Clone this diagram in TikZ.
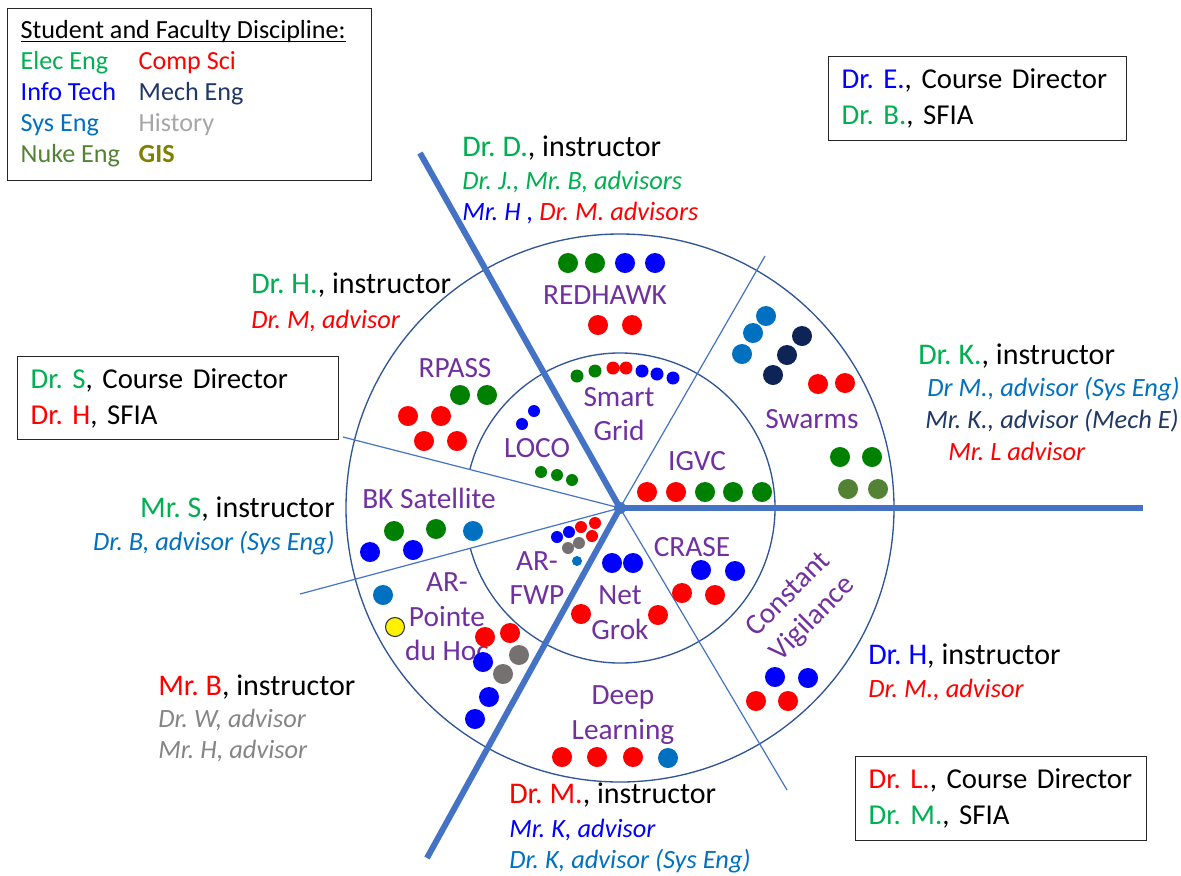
\documentclass[tikz,border=0pt]{standalone}
\usepackage{fontspec}
\setmainfont{Carlito}
\usetikzlibrary{positioning}

\definecolor{elec}{HTML}{00B050}
\definecolor{elecdot}{HTML}{008000}
\definecolor{comp}{HTML}{FF0000}
\definecolor{info}{HTML}{0000FF}
\definecolor{mech}{HTML}{1F3864}
\definecolor{mechdot}{HTML}{0E2356}
\definecolor{sys}{HTML}{0070C0}
\definecolor{hist}{HTML}{A6A6A6}
\definecolor{histdot}{HTML}{767171}
\definecolor{nuke}{HTML}{548235}
\definecolor{gis}{HTML}{7F7F00}
\definecolor{proj}{HTML}{7030A0}
\definecolor{spoke}{HTML}{4472C4}
\definecolor{ring}{HTML}{2F5597}

% underline close to the baseline
\newcommand\ulhead[1]{\setbox0\hbox{#1}\rlap{\rule[-2.3pt]{\wd0}{0.9pt}}\box0}

\begin{document}
\frenchspacing
\begin{tikzpicture}[x=0.75pt, y=-0.75pt,
    main/.style={font=\fontsize{22.5}{27}\selectfont, inner sep=0pt},
    adv/.style={font=\fontsize{19.8}{23}\selectfont\itshape, inner sep=0pt},
    project/.style={font=\fontsize{22}{26}\selectfont, text=proj, align=center, inner sep=0pt},
    box/.style={draw=black!85, line width=1pt, anchor=north west,
                inner xsep=9.75pt, font=\fontsize{21.6}{27}\selectfont},
    thickspoke/.style={spoke, line width=4.5pt},
    thinspoke/.style={spoke, line width=0.9pt},
    ringline/.style={ring, line width=1pt}]

  \useasboundingbox (0,0) rectangle (1181,875);

  % wheel
  \coordinate (c) at (620,508);
  \coordinate (nw) at (420,153);
  \coordinate (e) at (1143,508);
  \coordinate (sw) at (427,858);
  \coordinate (ne) at (765,256);
  \coordinate (wn) at (343,437);
  \coordinate (ws) at (300,594);
  \coordinate (se) at (787,790);

  \draw[ringline] (c) circle[radius=274];
  \draw[ringline] (c) ++(194.4:155) arc[start angle=194.4, end angle=525, radius=155];
  \draw[thinspoke] (c) -- (ne);
  \draw[thinspoke] (c) -- (wn);
  \draw[thinspoke] (c) -- (ws);
  \draw[thinspoke] (c) -- (se);
  \draw[thickspoke] (c) -- (nw);
  \draw[thickspoke] (c) -- (e);
  \draw[thickspoke] (c) -- (sw);
  \fill[spoke] (c) circle[radius=6];

  % legend
  \node[box, inner ysep=6.4pt, font=\fontsize{19.6}{23.25}\selectfont] (legend) at (7,8) {%
    \begin{tabular}{@{}p{88.5pt}@{}p{165pt}@{}}
      \multicolumn{2}{@{}l@{}}{\ulhead{Student and Faculty Discipline:}}\\
      \textcolor{elec}{Elec Eng} & \textcolor{comp}{Comp Sci}\\
      \textcolor{info}{Info Tech} & \textcolor{mech}{Mech Eng}\\
      \textcolor{sys}{Sys Eng} & \textcolor{hist}{History}\\
      \textcolor{nuke}{Nuke Eng} & \textcolor{gis}{\textbf{GIS}}
    \end{tabular}};

  % course boxes
  \node[box, text width=204pt, minimum height=63pt] (cdE) at (828,56)
    {\mbox{\textcolor{info}{Dr. E.}, Course Director}\\ \mbox{\textcolor{elec}{Dr. B.}, SFIA}};
  \node[box, text width=221.25pt, minimum height=62.25pt] (cdS) at (17,356)
    {\mbox{\textcolor{elec}{Dr. S}, Course Director}\\ \mbox{\textcolor{comp}{Dr. H}, SFIA}};
  \node[box, text width=198.75pt, minimum height=63pt] (cdL) at (855,756)
    {\mbox{\textcolor{comp}{Dr. L.}, Course Director}\\ \mbox{\textcolor{elec}{Dr. M.}, SFIA}};

  % instructors and advisors
  \node[main, anchor=base west] (instrD) at (462,156) {\textcolor{elec}{Dr. D.}, instructor};
  \node[adv, text=elec, below=24.75pt of instrD.base west, anchor=base west] (advD1) {Dr. J., Mr. B, advisors};
  \node[adv, below=23.25pt of advD1.base west, anchor=base west] (advD2)
    {\textcolor{info}{Mr. H ,} \textcolor{comp}{Dr. M. advisors}};

  \node[main, anchor=base west] (instrH) at (251,293) {\textcolor{elec}{Dr. H.}, instructor};
  \node[adv, text=comp, below=26.25pt of instrH.base west, anchor=base west] (advH) {Dr. M, advisor};

  \node[main, anchor=base west] (instrK) at (918,364) {\textcolor{elec}{Dr. K.}, instructor};
  \node[adv, text=sys, below right=24pt and 6.75pt of instrK.base west, anchor=base west] (advK1) {Dr M., advisor (Sys Eng)};
  \node[adv, text=mech, below left=24pt and 1.5pt of advK1.base west, anchor=base west] (advK2) {Mr. K., advisor (Mech E)};
  \node[adv, text=comp, below right=24pt and 17.25pt of advK2.base west, anchor=base west] (advK3) {Mr. L advisor};

  \node[main, anchor=base east] (instrS) at (335,517) {\textcolor{elec}{Mr. S}, instructor};
  \node[adv, text=sys, below=24.75pt of instrS.base east, anchor=base east] (advS) {Dr. B, advisor (Sys Eng)};

  \node[main, anchor=base west] (instrB) at (158,695) {\textcolor{comp}{Mr. B}, instructor};
  \node[adv, text=hist!80!black, below=24pt of instrB.base west, anchor=base west] (advB1) {Dr. W, advisor};
  \node[adv, text=hist!80!black, below=23.25pt of advB1.base west, anchor=base west] (advB2) {Mr. H, advisor};

  \node[main, anchor=base west] (instrM) at (509,803) {\textcolor{comp}{Dr. M.}, instructor};
  \node[adv, text=info, below=25.5pt of instrM.base west, anchor=base west] (advM1) {Mr. K, advisor};
  \node[adv, text=sys, below=23.25pt of advM1.base west, anchor=base west] (advM2) {Dr. K, advisor (Sys Eng)};

  \node[main, anchor=base west] (instrH2) at (868,664) {\textcolor{info}{Dr. H}, instructor};
  \node[adv, text=comp, below=24.75pt of instrH2.base west, anchor=base west] (advH2) {Dr. M., advisor};

  % projects
  \node[project] (redhawk) at (605,295) {REDHAWK};
  \node[project] (smartgrid) at (619,414) {Smart\\Grid};
  \node[project] (rpass) at (455,368) {RPASS};
  \node[project] (loco) at (537,448) {LOCO};
  \node[project] (bksat) at (429,498) {BK Satellite};
  \node[project] (arfwp) at (537,578) {AR-\\FWP};
  \node[project] (arpointe) at (447,617) {AR-\\Pointe\\du Hoc};
  \node[project] (netgrok) at (620,613) {Net\\Grok};
  \node[project] (crase) at (692,547) {CRASE};
  \node[project] (igvc) at (697,461) {IGVC};
  \node[project] (swarms) at (812,419) {Swarms};
  \node[project] (deep) at (623,715) {Deep\\Learning};
  \node[project, rotate=45] (vigil) at (801,607) {Constant\\Vigilance};

  % students
  \fill[elecdot] (568,263) circle[radius=10] (595,263) circle[radius=10];
  \fill[info] (625,263) circle[radius=10] (655,263) circle[radius=10];
  \fill[comp] (598,325) circle[radius=10] (632,325) circle[radius=10];

  \fill[elecdot] (577,376) circle[radius=6.5] (595,371) circle[radius=6.5];
  \fill[comp] (613,368) circle[radius=6.5] (626,368) circle[radius=6.5];
  \fill[info] (642,371) circle[radius=6.5] (657,374) circle[radius=6.5] (673,378) circle[radius=6.5];

  \fill[elecdot] (460,395) circle[radius=10] (487,395) circle[radius=10];
  \fill[comp] (408,416) circle[radius=10] (441,416) circle[radius=10]
              (424,441) circle[radius=10] (457,441) circle[radius=10];

  \fill[info] (522,424) circle[radius=6] (534,411) circle[radius=6];
  \fill[elecdot] (541,472) circle[radius=6] (557,475) circle[radius=6] (572,480) circle[radius=6];

  \fill[elecdot] (394,531) circle[radius=10] (436,529) circle[radius=10];
  \fill[sys] (473,531) circle[radius=10];
  \fill[info] (370,552) circle[radius=10] (413,550) circle[radius=10];

  \fill[info] (557,537) circle[radius=6] (569,532) circle[radius=6];
  \fill[comp] (581,527) circle[radius=6] (595,523) circle[radius=6] (592,536) circle[radius=6];
  \fill[histdot] (568,548) circle[radius=6] (579,543) circle[radius=6];
  \fill[sys] (577,561) circle[radius=5];

  \fill[sys] (383,595) circle[radius=10];
  \filldraw[fill=yellow, draw=black!80, line width=0.8pt] (395,627) circle[radius=9.5];
  \fill[comp] (485,637) circle[radius=10] (510,633) circle[radius=10];
  \fill[info] (483,662) circle[radius=10] (489,697) circle[radius=10] (475,719) circle[radius=10];
  \fill[histdot] (519,655) circle[radius=10] (503,674) circle[radius=10];

  \fill[info] (612,563) circle[radius=10] (633,563) circle[radius=10];
  \fill[comp] (581,614) circle[radius=10] (658,615) circle[radius=10];

  \fill[info] (701,570) circle[radius=10] (735,571) circle[radius=10];
  \fill[comp] (682,593) circle[radius=10] (715,595) circle[radius=10];

  \fill[info] (775,677) circle[radius=10] (808,678) circle[radius=10];
  \fill[comp] (756,701) circle[radius=10] (788,701) circle[radius=10];

  \fill[comp] (562,757) circle[radius=10] (597,757) circle[radius=10] (633,757) circle[radius=10];
  \fill[sys] (668,758) circle[radius=10];

  \fill[comp] (647,492) circle[radius=10] (676,492) circle[radius=10];
  \fill[elecdot] (705,492) circle[radius=10] (733,492) circle[radius=10] (762,492) circle[radius=10];

  \fill[sys] (766,316) circle[radius=10] (753,333) circle[radius=10] (742,354) circle[radius=10];
  \fill[mechdot] (802,336) circle[radius=10] (787,355) circle[radius=10] (773,375) circle[radius=10];
  \fill[comp] (818,384) circle[radius=10] (845,383) circle[radius=10];
  \fill[elecdot] (840,457) circle[radius=10] (872,457) circle[radius=10];
  \fill[nuke] (848,489) circle[radius=10] (878,489) circle[radius=10];
\end{tikzpicture}
\end{document}
